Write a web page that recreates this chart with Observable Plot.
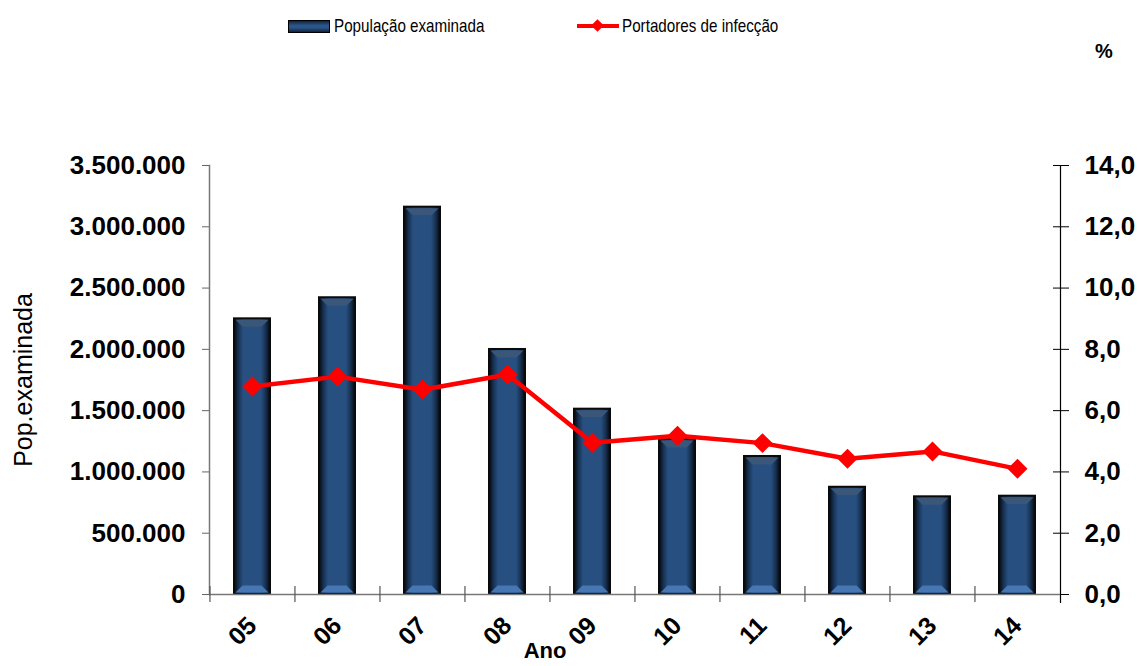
<!DOCTYPE html>
<html>
<head>
<meta charset="utf-8">
<script src="https://cdn.jsdelivr.net/npm/d3@7"></script>
<script src="https://cdn.jsdelivr.net/npm/@observablehq/plot@0.6"></script>
<style>
  html, body { margin: 0; padding: 0; background: #fff; }
  body { width: 1139px; height: 666px; overflow: hidden; font-family: "Liberation Sans", Arial, sans-serif; }
  #header { position: relative; width: 1139px; height: 60px; }
  .leg { position: absolute; top: 15px; display: flex; align-items: center; font-size: 19px; color: #000; }
  .leg span { display: inline-block; transform: scaleX(0.8); transform-origin: left center; white-space: nowrap; }
  .sw-bar { width: 40px; height: 11px; border: 1px solid #000; background: linear-gradient(#10243d, #2b5589 40%, #2b5589 60%, #10243d); margin-right: 4px; }
  .sw-line { position: relative; width: 42px; height: 4px; background: #ff0000; margin-right: 3px; }
  .sw-line::after { content: ""; position: absolute; left: 16px; top: -3px; width: 9px; height: 9px; background: #ff0000; transform: rotate(45deg); }
  #pct { position: absolute; left: 1095px; top: 40px; font-weight: bold; font-size: 20px; }
</style>
</head>
<body>
<div id="header">
  <div class="leg" style="left:288px"><div class="sw-bar"></div><span>População examinada</span></div>
  <div class="leg" style="left:577px"><div class="sw-line"></div><span>Portadores de infecção</span></div>
  <div id="pct">%</div>
</div>
<div id="chart"></div>
<script>
const anos = ["05", "06", "07", "08", "09", "10", "11", "12", "13", "14"];
const populacao = [2249000, 2421000, 3160000, 1999000, 1512000, 1265000, 1126000, 875000, 797000, 802000];
const portadores = [6.79, 7.11, 6.68, 7.18, 4.95, 5.18, 4.94, 4.43, 4.67, 4.10];
const leftTicks = [0, 500000, 1000000, 1500000, 2000000, 2500000, 3000000, 3500000];
const rightTicks = [0, 2, 4, 6, 8, 10, 12, 14];
const yMax = 3500000;
const pctMax = 14;
const k = yMax / pctMax; // maps percent onto the population scale

const data = anos.map((a, i) => ({ano: a, pop: populacao[i], pct: portadores[i]}));

const loc = d3.formatLocale({decimal: ",", thousands: ".", grouping: [3], currency: ["", ""]});
const fmtPop = loc.format(",d");
const fmtPct = loc.format(".1f");

const W = 1139, H = 606;
const mL = 209, mR = 79, mT = 105, mB = 72;
const step = (W - mL - mR) / anos.length;

// adds bevel facets (top darker, bottom lighter) to each bar rect
function bevel(index, scales, values, dims, context, next) {
  const g = next(index, scales, values, dims, context);
  const bev = 7;
  d3.select(g).selectAll("rect").each(function() {
    const r = d3.select(this);
    const x = +r.attr("x"), y = +r.attr("y"), w = +r.attr("width"), h = +r.attr("height");
    const t = this.getAttribute("transform");
    const p = d3.select(g).append("g").attr("transform", t).attr("stroke", "none");
    const i = 1.5;
    p.append("polygon")
      .attr("points", [[x + i, y + i], [x + w - i, y + i], [x + w - i - bev, y + i + bev], [x + i + bev, y + i + bev]].join(" "))
      .attr("fill", "#3a5678").attr("stroke", "none");
    p.append("polygon")
      .attr("points", [[x + i, y + h - i], [x + w - i, y + h - i], [x + w - i - bev, y + h - i - bev], [x + i + bev, y + h - i - bev]].join(" "))
      .attr("fill", "#4777b3").attr("stroke", "none");
  });
  return g;
}

const chart = Plot.plot({
  width: W,
  height: H,
  marginLeft: mL,
  marginRight: mR,
  marginTop: mT,
  marginBottom: mB,
  style: {fontFamily: "Liberation Sans, Arial, sans-serif", background: "#fff"},
  x: {type: "band", domain: anos, paddingInner: 0.58, paddingOuter: 0.29, axis: null},
  y: {domain: [0, yMax], axis: null},
  marks: [
    // bars
    Plot.barY(data, {x: "ano", y: "pop", fill: "url(#barGrad)", stroke: "#0a0a0a", strokeWidth: 2, render: bevel}),
    // left axis
    Plot.axisY({anchor: "left", ticks: leftTicks, tickSize: 7, tickPadding: 17, tickFormat: fmtPop,
      fontSize: 26, fontWeight: "bold", fill: "#000", stroke: "#666", label: null}),
    Plot.frame({anchor: "left", stroke: "#777", strokeWidth: 1.5}),
    // right axis (percent)
    Plot.axisY({anchor: "right", ticks: rightTicks.map(v => v * k), tickSize: 8, tickPadding: 16,
      tickFormat: d => fmtPct(d / k), fontSize: 26, fontWeight: "bold", fill: "#000", stroke: "#000", label: null}),
    Plot.axisY({anchor: "right", ticks: rightTicks.map(v => v * k), tickSize: 8, dx: -8, text: null, stroke: "#000", label: null}),
    Plot.frame({anchor: "right", stroke: "#000", strokeWidth: 1.2, insetBottom: -8}),
    // bottom axis line
    Plot.ruleY([0], {stroke: "#777", strokeWidth: 1.5}),
    // category tick marks at band boundaries
    Plot.ruleX(anos, {x: d => d, dx: -step / 2, stroke: "#555", strokeWidth: 1.2, insetTop: 421, insetBottom: -8}),
    // x tick labels
    Plot.axisX({anchor: "bottom", tickSize: 0, tickRotate: -45, tickPadding: 27, fontSize: 25, fontWeight: "bold", fill: "#000", label: null}),
    // line + markers
    Plot.line(data, {x: "ano", y: d => d.pct * k, stroke: "#ff0000", strokeWidth: 4.5}),
    Plot.dot(data, {x: "ano", y: d => d.pct * k, symbol: "diamond2", r: 9, fill: "#ff0000", stroke: "none"}),
    // axis titles
    Plot.text(["Ano"], {frameAnchor: "bottom", dx: -90, dy: 63, fontSize: 22, fontWeight: "bold", fill: "#000"}),
    Plot.text(["Pop.examinada"], {frameAnchor: "left", textAnchor: "middle", dx: -186, rotate: -90, fontSize: 25, fill: "#000"})
  ]
});

// gradient definitions for the bevelled bars
const svg = d3.select(chart.tagName.toLowerCase() === "svg" ? chart : chart.querySelector("svg"));
const defs = svg.insert("defs", ":first-child");
const g = defs.append("linearGradient").attr("id", "barGrad").attr("x1", "0").attr("x2", "1").attr("y1", "0").attr("y2", "0");
[["0%", "#05080d"], ["12%", "#17304f"], ["25%", "#274f80"], ["75%", "#274f80"], ["88%", "#17304f"], ["100%", "#05080d"]]
  .forEach(([o, c]) => g.append("stop").attr("offset", o).attr("stop-color", c));

document.getElementById("chart").appendChild(chart);
</script>
</body>
</html>
